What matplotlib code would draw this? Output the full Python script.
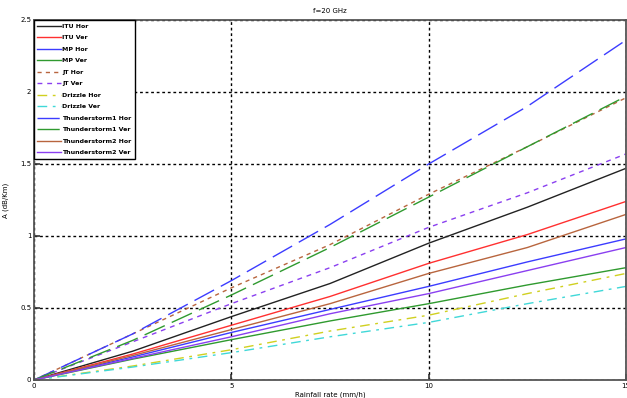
import matplotlib
matplotlib.use("Agg")
import matplotlib.pyplot as plt

R = [0, 2.5, 5, 7.5, 10, 12.5, 15]

itu_hor = [0, 0.20, 0.44, 0.67, 0.95, 1.20, 1.47]
itu_ver = [0, 0.18, 0.38, 0.58, 0.81, 1.01, 1.24]
mp_hor = [0, 0.16, 0.33, 0.49, 0.65, 0.82, 0.98]
mp_ver = [0, 0.145, 0.28, 0.41, 0.53, 0.66, 0.78]
jt_hor = [0, 0.32, 0.64, 0.94, 1.29, 1.62, 1.96]
jt_ver = [0, 0.265, 0.53, 0.78, 1.06, 1.30, 1.57]
drizzle_hor = [0, 0.097, 0.21, 0.34, 0.45, 0.60, 0.74]
drizzle_ver = [0, 0.09, 0.19, 0.30, 0.40, 0.53, 0.65]
thunder1_hor = [0, 0.32, 0.69, 1.08, 1.50, 1.90, 2.36]
thunder1_ver = [0, 0.275, 0.59, 0.92, 1.27, 1.62, 1.97]
thunder2_hor = [0, 0.17, 0.35, 0.53, 0.74, 0.92, 1.15]
thunder2_ver = [0, 0.15, 0.30, 0.46, 0.60, 0.76, 0.92]

labels = ["ITU Hor", "ITU Ver", "MP Hor", "MP Ver", "JT Hor", "JT Ver",
          "Drizzle Hor", "Drizzle Ver", "Thunderstorm1 Hor", "Thunderstorm1 Ver",
          "Thunderstorm2 Hor", "Thunderstorm2 Ver"]
series = [itu_hor, itu_ver, mp_hor, mp_ver, jt_hor, jt_ver, drizzle_hor,
          drizzle_ver, thunder1_hor, thunder1_ver, thunder2_hor, thunder2_ver]
colors = ["#222222", "#ff3030", "#3c3cff", "#2f9a2f", "#b8653e", "#8a3ff0",
          "#d0d020", "#40d8d8", "#3c3cff", "#2f9a2f", "#b8653e", "#8a3ff0"]
styles = ["-", "-", "-", "-", (0, (3, 3)), (0, (3.5, 3.5)),
          (0, (7, 4, 2, 4)), (0, (7, 4, 2, 4)), (0, (16, 5.5)), (0, (16, 5.5)),
          "-", "-"]

fig = plt.figure(figsize=(6.27, 3.98), dpi=100)
ax = fig.add_axes([34 / 627, 18 / 398, 592 / 627, 360 / 398])

for y, lab, c, ls in zip(series, labels, colors, styles):
    ax.plot(R, y, color=c, linestyle=ls, linewidth=1.0, label=lab)

ax.set_xlim(0, 15)
ax.set_ylim(0, 2.5)
ax.set_xticks([0, 5, 10, 15])
ax.set_yticks([0, 0.5, 1, 1.5, 2, 2.5])
ax.set_yticklabels(["0", "0.5", "1", "1.5", "2", "2.5"])
ax.tick_params(direction="in", length=4, width=1.2, labelsize=5, pad=2,
               colors="#333333", labelcolor="black")
ax.grid(True, color="black", linestyle=(0, (2, 2)), linewidth=1.0)
for s in ax.spines.values():
    s.set_color("#555555")
    s.set_linewidth(1.3)

ax.set_title("f=20 GHz", fontsize=5, pad=5)
ax.set_xlabel("Rainfall rate (mm/h)", fontsize=5, labelpad=2)
ax.set_ylabel("A (dB/Km)", fontsize=5, labelpad=8)

leg = ax.legend(loc="upper left", prop={"weight": "bold", "size": 4.5},
                handlelength=3.8, labelspacing=0.98, borderaxespad=0.0,
                fancybox=False, framealpha=1, edgecolor="black", borderpad=0.55,
                handletextpad=0.2)
leg.get_frame().set_linewidth(1.0)

fig.savefig("out.png", dpi=100)
